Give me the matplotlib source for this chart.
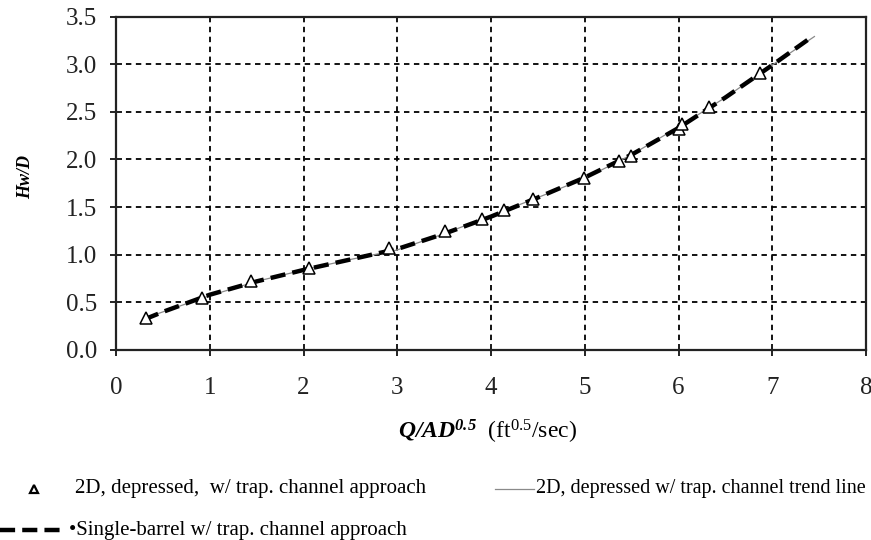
import matplotlib
matplotlib.use("Agg")
import matplotlib.pyplot as plt
from matplotlib.lines import Line2D

plt.rcParams['font.family'] = ['Liberation Serif', 'DejaVu Serif']
plt.rcParams['mathtext.fontset'] = 'custom'
plt.rcParams['mathtext.rm'] = 'Liberation Serif'
plt.rcParams['mathtext.it'] = 'Liberation Serif:italic'
plt.rcParams['mathtext.bf'] = 'Liberation Serif:bold'
plt.rcParams['mathtext.bfit'] = 'Liberation Serif:italic:bold'

# 2D depressed, w/ trap. channel approach (points)
pts_x = [0.32, 0.92, 1.44, 2.06, 2.91, 3.51, 3.90, 4.14, 4.45, 4.99, 5.37, 5.49, 6.00, 6.04, 6.33, 6.87]
pts_y = [0.34, 0.55, 0.72, 0.86, 1.07, 1.25, 1.37, 1.47, 1.58, 1.80, 1.98, 2.04, 2.32, 2.37, 2.55, 2.91]

# 2D trend line
trend_x = [0.30, 0.5, 1.0, 1.5, 2.0, 2.5, 3.0, 3.5, 4.0, 4.5, 5.0, 5.5, 6.0, 6.5, 7.0, 7.45]
trend_y = [0.33, 0.40, 0.57, 0.72, 0.84, 0.95, 1.05, 1.22, 1.41, 1.60, 1.80, 2.05, 2.34, 2.65, 2.99, 3.29]

# Single-barrel w/ trap. channel approach
single_x = [0.30, 0.5, 1.0, 1.5, 2.0, 2.5, 3.0, 3.5, 4.0, 4.5, 5.0, 5.5, 6.0, 6.5, 7.0, 7.40]
single_y = [0.32, 0.40, 0.58, 0.72, 0.84, 0.95, 1.06, 1.22, 1.40, 1.60, 1.81, 2.05, 2.33, 2.65, 2.99, 3.27]

xticks = [0, 1, 2, 3, 4, 5, 6, 7, 8]
yticks = [0.0, 0.5, 1.0, 1.5, 2.0, 2.5, 3.0, 3.5]

W, H = 871, 540
fig = plt.figure(figsize=(W / 100, H / 100), dpi=100)
ax = fig.add_axes([116 / W, 1 - 350 / H, (866 - 116) / W, (350 - 16.5) / H])

ax.plot(trend_x, trend_y, color='#8a8a8a', lw=0.9, zorder=3)
ax.plot(single_x, single_y, color='black', lw=3.2, dashes=(3.4, 1.6), zorder=4)
ax.plot(pts_x, pts_y, linestyle='none', marker='^', markersize=9,
        markerfacecolor='white', markeredgecolor='black', markeredgewidth=1.1, zorder=5)

ax.set_xlim(0, 8)
ax.set_ylim(0, 3.5)
ax.set_xticks(xticks)
ax.set_yticks(yticks)
ax.set_xticklabels([str(v) for v in xticks])
ax.set_yticklabels([f"{v:.1f}" for v in yticks])
ax.grid(True, color='black', linestyle=(0, (3, 2.5)), linewidth=1.3)
ax.set_axisbelow(True)
for s in ax.spines.values():
    s.set_linewidth(1.6)
    s.set_color('#222222')
ax.tick_params(axis='both', direction='inout', length=9, width=1.4, labelsize=18, colors='#222222')
ax.tick_params(axis='x', pad=15)
ax.tick_params(axis='y', pad=9)

fig.text(26 / W, 1 - 177 / H, 'Hw/D', rotation=90, fontsize=13, fontweight='bold',
         fontstyle='italic', ha='center', va='center')
fig.text(487 / W, 1 - 432 / H, r'$\mathbfit{Q/AD}^{\mathbfit{0.5}}$  (ft$^{0.5}$/sec)',
         fontsize=17, ha='center', va='center')

# legend (manual, figure coords)
y1 = 1 - 489 / H
y2 = 1 - 530 / H
fig.add_artist(Line2D([34 / W], [y1], marker='^', markersize=6, markerfacecolor='white',
                      markeredgecolor='black', markeredgewidth=1.6, linestyle='none'))
fig.text(75 / W, y1, '2D, depressed,  w/ trap. channel approach', fontsize=15, va='center')
fig.add_artist(Line2D([495 / W, 534 / W], [y1, y1], color='#8a8a8a', lw=0.9))
fig.text(536 / W, y1, '2D, depressed w/ trap. channel trend line', fontsize=14.5, va='center')
fig.add_artist(Line2D([0 / W, 62 / W], [y2, y2], color='black', lw=3.2, dashes=(3.4, 1.6)))
fig.text(69 / W, y2, '\u2022Single-barrel w/ trap. channel approach', fontsize=15, va='center')

fig.savefig('out.png', dpi=100, facecolor='white')
